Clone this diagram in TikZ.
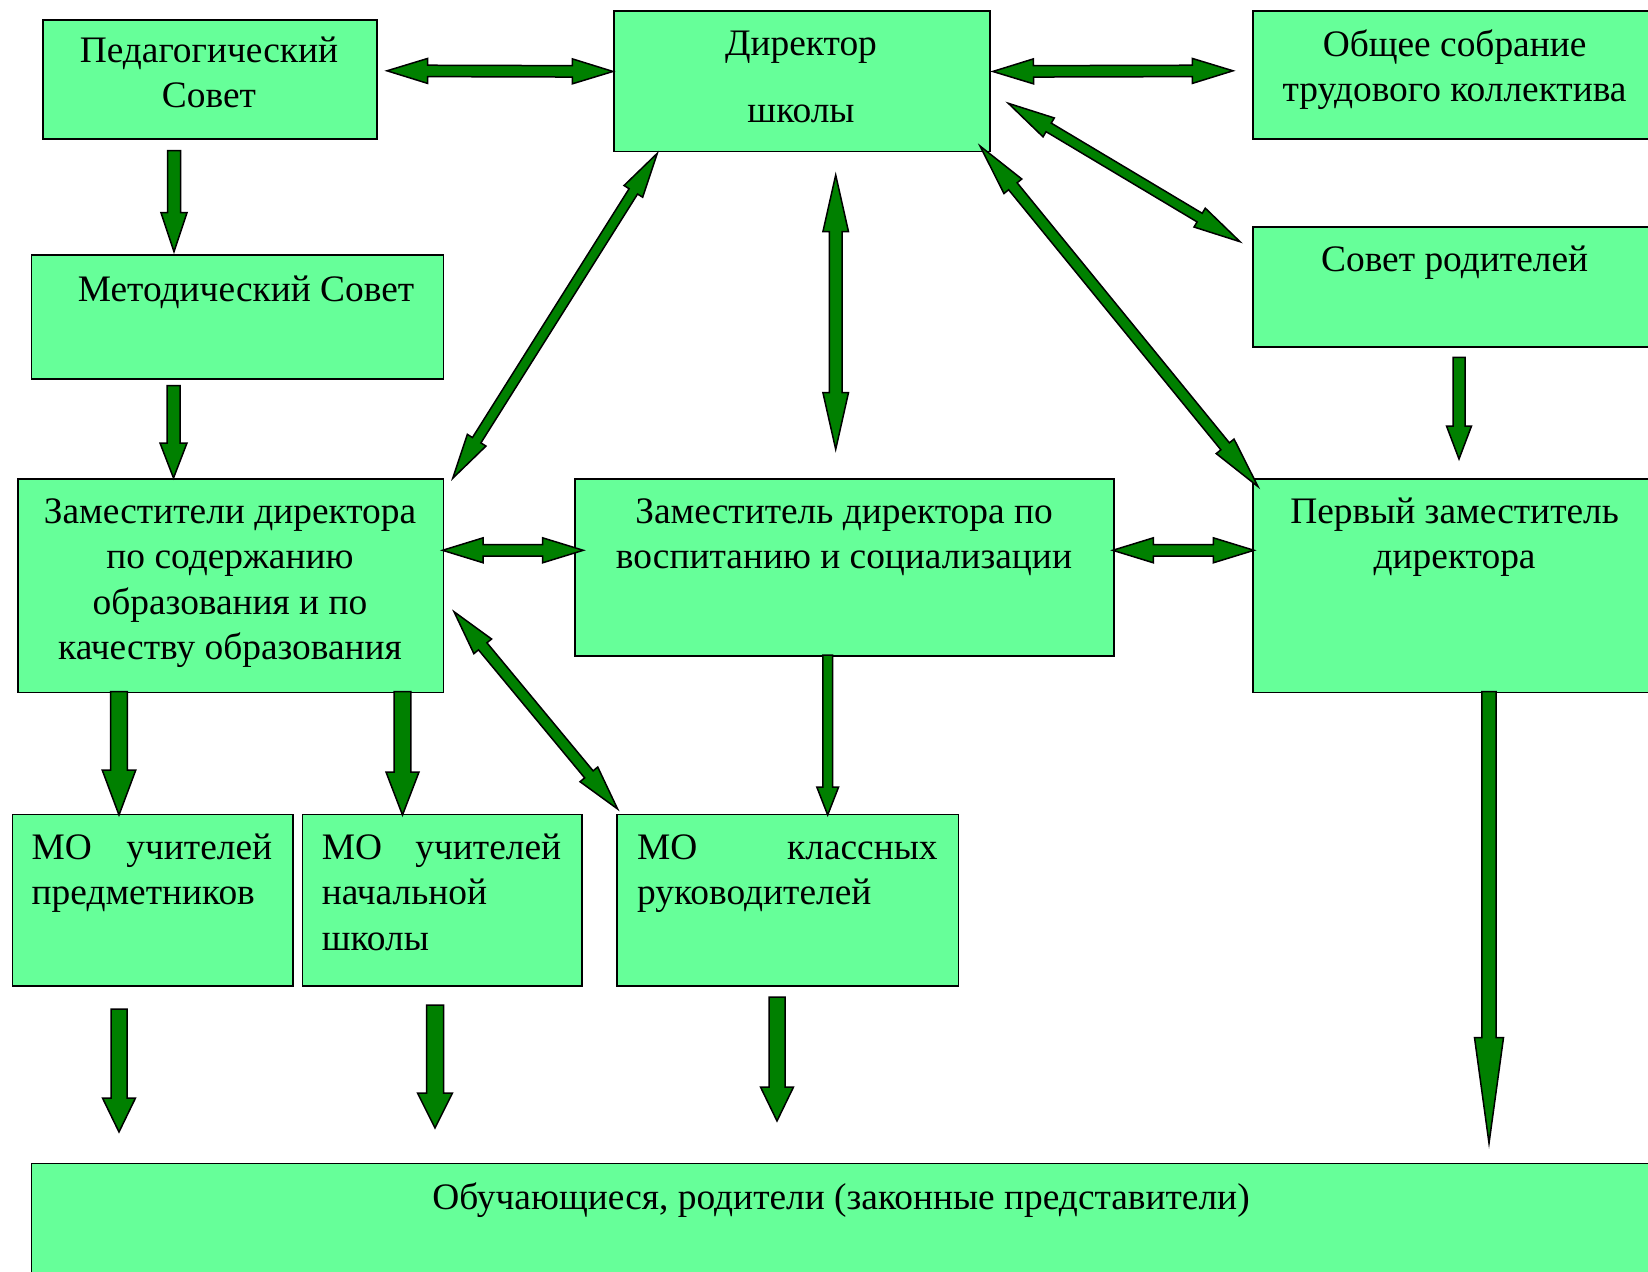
\documentclass[tikz,border=0pt]{standalone}
\usepackage{fontspec}
\setmainfont{Liberation Serif}
\usetikzlibrary{calc}
\definecolor{boxgreen}{RGB}{102,255,153}
\definecolor{arrgreen}{RGB}{0,128,0}
\tikzset{
  box/.style={draw=black, line width=1.8pt, fill=boxgreen, inner sep=0pt, anchor=north west},
  txt/.style={inner sep=0pt, anchor=north, align=center, font=\fontsize{37.4pt}{45.5pt}\selectfont},
  txtl/.style={inner sep=0pt, anchor=north west, align=left, font=\fontsize{37.4pt}{45.5pt}\selectfont},
  arr/.style={fill=arrgreen, draw=black, line width=1.5pt, line join=miter}
}
% double block arrow: #1 end A, #2 end B, #3 shaft half width, #4 head half width, #5 head length
\newcommand\blockdbl[5]{%
  \path ($(#1)!#5!(#2)$) coordinate (ba1) ($(#2)!#5!(#1)$) coordinate (ba2);
  \filldraw[arr] (#1) -- ($(ba1)!#4!90:(#2)$) -- ($(ba1)!#3!90:(#2)$)
    -- ($(ba2)!#3!-90:(#1)$) -- ($(ba2)!#4!-90:(#1)$) -- (#2)
    -- ($(ba2)!#4!90:(#1)$) -- ($(ba2)!#3!90:(#1)$)
    -- ($(ba1)!#3!-90:(#2)$) -- ($(ba1)!#4!-90:(#2)$) -- cycle;}
% single block arrow from #1 (tail) to #2 (tip)
\newcommand\blocksgl[5]{%
  \path ($(#2)!#5!(#1)$) coordinate (ba2);
  \filldraw[arr] ($(#1)!#3!-90:(#2)$) -- ($(ba2)!#3!90:(#1)$) -- ($(ba2)!#4!90:(#1)$)
    -- (#2) -- ($(ba2)!#4!-90:(#1)$) -- ($(ba2)!#3!-90:(#1)$)
    -- ($(#1)!#3!90:(#2)$) -- cycle;}
\begin{document}
\begin{tikzpicture}[x=1pt,y=-1pt]
\fill[white] (0,0) rectangle (1648,1271);
\useasboundingbox (0,0) rectangle (1648,1271);

% boxes
\node[box, minimum width=334pt, minimum height=119pt] (ped) at (42,19) {};
\node[box, minimum width=376pt, minimum height=140pt] (dir) at (613,10.5) {};
\node[box, minimum width=410pt, minimum height=127.5pt] (obs) at (1252,10.5) {};
\node[box, minimum width=412pt, minimum height=124pt] (met) at (30.5,254) {};
\node[box, minimum width=410pt, minimum height=120pt] (sovr) at (1252,226) {};
\node[box, minimum width=425.5pt, minimum height=213.5pt] (zam) at (17,478) {};
\node[box, minimum width=539pt, minimum height=177pt] (vos) at (574,478) {};
\node[box, minimum width=410pt, minimum height=213.5pt] (perv) at (1252,478) {};
\node[box, minimum width=280.5pt, minimum height=171.5pt] (mo1) at (11.5,813.5) {};
\node[box, minimum width=279.5pt, minimum height=171.5pt] (mo2) at (301.5,813.5) {};
\node[box, minimum width=341.5pt, minimum height=171.5pt] (mo3) at (616,813.5) {};
\node[box, minimum width=1640pt, minimum height=140pt] (obu) at (30.5,1162.5) {};

% texts
\node[txt] (tped) at (209,30) {\strut Педагогический\\Совет};
\node[txt] (tdir) at (801,23.5) {\strut Директор\\[21pt]школы};
\node[txt] (tobs) at (1454.6,24) {\strut Общее собрание\\трудового коллектива};
\node[txt] (tmet) at (246,269) {\strut Методический Совет};
\node[txt] (tsovr) at (1454.6,239.7) {\strut Совет родителей};
\node[txt] (tzam) at (230,491) {\strut Заместители директора\\по содержанию\\образования и по\\качеству образования};
\node[txt] (tvos) at (844,491) {\strut Заместитель директора по\\воспитанию и социализации};
\node[txt] (tperv) at (1454.6,491) {\strut Первый заместитель\\директора};
\node[txtl, text width=240.5pt] (tmo1) at (31.5,827) {\strut МО\hfill учителей\\предметников};
\node[txtl, text width=239.4pt] (tmo2) at (321.6,827) {\strut МО\hfill учителей\\начальной\\школы};
\node[txtl, text width=300.5pt] (tmo3) at (637,827) {\strut МО\hfill классных\\руководителей};
\node[txt] (tobu) at (841,1177) {\strut Обучающиеся, родители (законные представители)};

% arrow end points
\coordinate (a1a) at (387,70.8);     \coordinate (a1b) at ($(dir.north west)!0.43!(dir.south west)$);
\coordinate (a2a) at ($(dir.north east)!0.43!(dir.south east)+(2,0)$); \coordinate (a2b) at (1233,70.8);
\coordinate (a3a) at (174,150.7);    \coordinate (a3b) at (174,251.7);
\coordinate (a4a) at (173.5,385.7);  \coordinate (a4b) at (173.5,478);
\coordinate (a5a) at (657.3,153.3);  \coordinate (a5b) at (452.7,478.3);
\coordinate (a6a) at (835.7,175);    \coordinate (a6b) at (835.7,449.3);
\coordinate (a7a) at (980,146);      \coordinate (a7b) at (1258,486.6);
\coordinate (a8a) at (1008.3,103.3); \coordinate (a8b) at (1240,241.7);
\coordinate (a9a) at (1459,357.3);   \coordinate (a9b) at (1459,459);
\coordinate (a10a) at (442.5,550.3); \coordinate (a10b) at (583.3,550.3);
\coordinate (a11a) at (1112.7,550.3);\coordinate (a11b) at (1254,550.3);
\coordinate (a12a) at (119,691.5);   \coordinate (a12b) at (119,815);
\coordinate (a13a) at (402.5,691.5); \coordinate (a13b) at (402.5,815);
\coordinate (a14a) at (454,611.7);   \coordinate (a14b) at (617.6,809);
\coordinate (a15a) at (827.7,655);   \coordinate (a15b) at (827.7,815);
\coordinate (a16a) at (119,1009);    \coordinate (a16b) at (119,1132);
\coordinate (a17a) at (435,1005);    \coordinate (a17b) at (435,1128);
\coordinate (a18a) at (777,997);     \coordinate (a18b) at (777,1121);
\coordinate (a19a) at (1489,691.5);  \coordinate (a19b) at (1489,1143.3);

% arrows
\blockdbl{a1a}{a1b}{5.7pt}{12.5pt}{40.7pt}
\blockdbl{a2a}{a2b}{5.7pt}{12.5pt}{40.7pt}
\blocksgl{a3a}{a3b}{6.5pt}{13pt}{39pt}
\blocksgl{a4a}{a4b}{6.5pt}{13.5pt}{35pt}
\blockdbl{a5a}{a5b}{5pt}{11pt}{45pt}
\blockdbl{a6a}{a6b}{6.3pt}{12.8pt}{56.7pt}
\blockdbl{a7a}{a7b}{5.5pt}{11.5pt}{52pt}
\blockdbl{a8a}{a8b}{5pt}{11pt}{47pt}
\blocksgl{a9a}{a9b}{6pt}{12.5pt}{33pt}
\blockdbl{a10a}{a10b}{5.7pt}{12.5pt}{40.7pt}
\blockdbl{a11a}{a11b}{5.7pt}{12.5pt}{40.7pt}
\blocksgl{a12a}{a12b}{8.3pt}{16.8pt}{45pt}
\blocksgl{a13a}{a13b}{8.3pt}{16.5pt}{43pt}
\blockdbl{a14a}{a14b}{5.5pt}{11.5pt}{45pt}
\blocksgl{a15a}{a15b}{4.9pt}{10.9pt}{28pt}
\blocksgl{a16a}{a16b}{8pt}{16.5pt}{34pt}
\blocksgl{a17a}{a17b}{8.5pt}{17.5pt}{35pt}
\blocksgl{a18a}{a18b}{8pt}{16.5pt}{34pt}
\blocksgl{a19a}{a19b}{7.2pt}{14.5pt}{105.6pt}
\end{tikzpicture}
\end{document}
